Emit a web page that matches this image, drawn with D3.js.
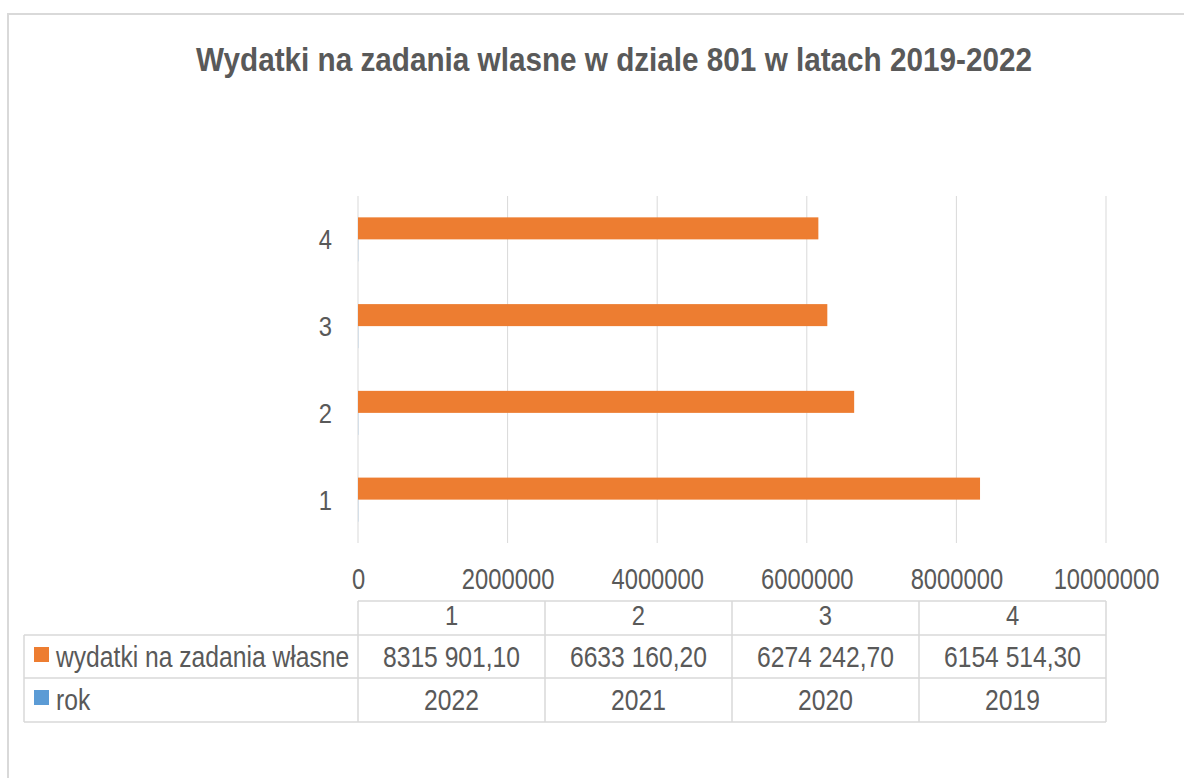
<!DOCTYPE html>
<html>
<head>
<meta charset="utf-8">
<script src="https://cdn.jsdelivr.net/npm/d3@7"></script>
<style>
  html, body { margin: 0; padding: 0; background: #fff; }
  svg { display: block; }
  text { font-family: "Liberation Sans Narrow", "Arial Narrow", "Liberation Sans", Arial, sans-serif; fill: #595959; }
</style>
</head>
<body>
<svg id="chart" width="1184" height="778"></svg>
<script>
const title = "Wydatki na zadania wlasne w dziale 801 w latach 2019-2022";
const categories = ["1", "2", "3", "4"];
const seriesNames = ["wydatki na zadania własne", "rok"];
const wydatki = [8315901.10, 6633160.20, 6274242.70, 6154514.30];
const rok = [2022, 2021, 2020, 2019];
const wydatkiLabels = ["8315 901,10", "6633 160,20", "6274 242,70", "6154 514,30"];
const rokLabels = ["2022", "2021", "2020", "2019"];
const xTicks = [0, 2000000, 4000000, 6000000, 8000000, 10000000];
const seriesColors = ["#ED7D31", "#5B9BD5"];

const svg = d3.select("#chart");

// horizontally condense text (reference uses a narrow face)
function squeeze(sel, sx) {
  sel.each(function () {
    const t = d3.select(this);
    const xx = +t.attr("x") || 0;
    t.attr("transform", `translate(${xx},0) scale(${sx},1) translate(${-xx},0)`);
  });
}

// outer chart border
svg.append("rect").attr("x", 8).attr("y", 14).attr("width", 1400).attr("height", 1000)
  .attr("fill", "#fff").attr("stroke", "#d9d9d9").attr("stroke-width", 2);

// title
svg.append("text").attr("x", 614).attr("y", 71).attr("text-anchor", "middle")
  .style("font-size", "33px").style("font-weight", "bold").text(title)
  .call(squeeze, 0.9);

const plotTop = 196, plotBottom = 543, plotLeft = 358, plotRight = 1106;

const x = d3.scaleLinear().domain([0, 10000000]).range([plotLeft, plotRight]);
const y = d3.scaleBand().domain(categories.slice().reverse()).range([plotTop, plotBottom]).padding(0);
const ySub = d3.scaleBand().domain(seriesNames).range([0, y.bandwidth()]).paddingInner(0).paddingOuter(0.97);

// gridlines
svg.append("g").selectAll("line").data(xTicks).join("line")
  .attr("x1", d => x(d)).attr("x2", d => x(d))
  .attr("y1", plotTop).attr("y2", plotBottom)
  .attr("stroke", "#d9d9d9").attr("stroke-width", 1);

// x axis labels
const xAxis = d3.axisBottom(x).tickValues(xTicks).tickSize(0).tickFormat(d3.format("d"));
const gx = svg.append("g").attr("transform", `translate(0,${plotBottom})`).call(xAxis);
gx.select(".domain").remove();
gx.selectAll("text").attr("y", 0).attr("dy", "46px").style("font-size", "29px").attr("fill", "#595959")
  .call(squeeze, 0.82);

// y axis labels
const yAxis = d3.axisLeft(y).tickSize(0);
const gy = svg.append("g").attr("transform", `translate(${plotLeft - 26},0)`).call(yAxis);
gy.select(".domain").remove();
gy.selectAll("text").attr("x", 0).attr("dy", "0.36em").style("font-size", "28px").attr("fill", "#595959")
  .call(squeeze, 0.85);

// bars
const seriesData = [wydatki, rok];
seriesData.forEach((vals, si) => {
  svg.append("g").selectAll("rect").data(categories).join("rect")
    .attr("x", x(0))
    .attr("y", (c) => y(c) + ySub(seriesNames[si]))
    .attr("width", (c, i) => x(vals[i]) - x(0))
    .attr("height", ySub.bandwidth())
    .attr("fill", seriesColors[si]);
});

// data table
const tLeft = 24;
const rowsY = [601, 635, 678, 722];
const colW = (x(10000000) - x(0)) / categories.length;
const tg = svg.append("g");
const lineColor = "#d9d9d9";
tg.append("line").attr("x1", plotLeft).attr("x2", plotRight).attr("y1", rowsY[0]).attr("y2", rowsY[0]).attr("stroke", lineColor).attr("stroke-width", 1.5);
[1, 2, 3].forEach(r => {
  tg.append("line").attr("x1", tLeft).attr("x2", plotRight).attr("y1", rowsY[r]).attr("y2", rowsY[r]).attr("stroke", lineColor).attr("stroke-width", 1.5);
});
tg.append("line").attr("x1", tLeft).attr("x2", tLeft).attr("y1", rowsY[1]).attr("y2", rowsY[3]).attr("stroke", lineColor).attr("stroke-width", 1.5);
categories.concat(["end"]).forEach((c, i) => {
  const xx = plotLeft + colW * i;
  tg.append("line").attr("x1", xx).attr("x2", xx).attr("y1", rowsY[0]).attr("y2", rowsY[3]).attr("stroke", lineColor).attr("stroke-width", 1.5);
});
tg.selectAll("text.hdr").data(categories).join("text").attr("class", "hdr")
  .attr("x", (c, i) => plotLeft + colW * (i + 0.5)).attr("y", 625)
  .attr("text-anchor", "middle").style("font-size", "28px").text(c => c)
  .call(squeeze, 0.85);
const rowLabels = [wydatkiLabels, rokLabels];
const rowBase = [667, 710];
rowLabels.forEach((labels, r) => {
  tg.selectAll("text.r" + r).data(labels).join("text").attr("class", "r" + r)
    .attr("x", (d, i) => plotLeft + colW * (i + 0.5)).attr("y", rowBase[r])
    .attr("text-anchor", "middle").style("font-size", "29px").text(d => d)
    .call(squeeze, 0.85);
  tg.append("rect").attr("x", 34).attr("y", rowBase[r] - 20).attr("width", 15).attr("height", 15)
    .attr("fill", seriesColors[r]);
  tg.append("text").attr("x", 56).attr("y", rowBase[r]).style("font-size", "29px").text(seriesNames[r])
    .call(squeeze, 0.85);
});
</script>
</body>
</html>
